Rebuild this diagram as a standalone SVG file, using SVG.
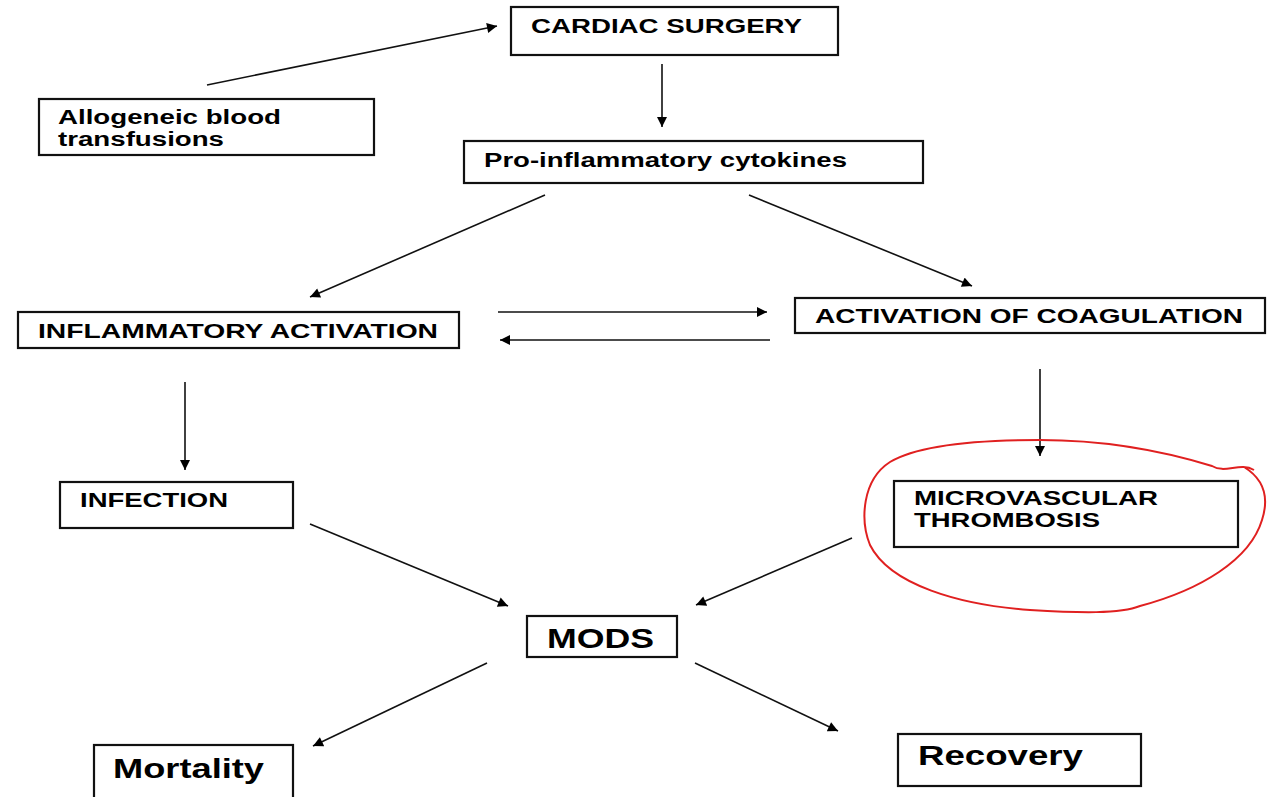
<svg xmlns="http://www.w3.org/2000/svg" width="1271" height="797" viewBox="0 0 1271 797">
<defs>
<marker id="ah" viewBox="0 0 10 10" refX="10" refY="5" markerWidth="11" markerHeight="10" markerUnits="userSpaceOnUse" orient="auto">
<path d="M0,0 L10,5 L0,10 z" fill="#000"/>
</marker>
<style>
.box{fill:#fff;stroke:#111;stroke-width:2.2}
.t{font-family:"Liberation Sans",Arial,sans-serif;font-weight:bold;font-size:20px;fill:#000}
.b{font-size:27px}
.c{stroke:#111;stroke-width:1.6;fill:none;marker-end:url(#ah)}
</style>
</defs>
<rect width="1271" height="797" fill="#fff"/>
<g id="connectors">
<line class="c" x1="207" y1="85" x2="497" y2="26"/>
<line class="c" x1="662" y1="64" x2="662" y2="127"/>
<line class="c" x1="545" y1="195" x2="310" y2="297"/>
<line class="c" x1="749" y1="195" x2="972" y2="286"/>
<line class="c" x1="498" y1="312" x2="767" y2="312"/>
<line class="c" x1="770" y1="340" x2="500" y2="340"/>
<line class="c" x1="185" y1="382" x2="185" y2="470"/>
<line class="c" x1="1040" y1="369" x2="1040" y2="456"/>
<line class="c" x1="310" y1="524" x2="508" y2="606"/>
<line class="c" x1="852" y1="538" x2="696" y2="605"/>
<line class="c" x1="487" y1="663" x2="313" y2="746"/>
<line class="c" x1="695" y1="663" x2="838" y2="731"/>
</g>
<g id="allogeneic">
<rect class="box" x="39" y="99" width="335" height="56"/>
<text class="t" x="58" y="124" textLength="223" lengthAdjust="spacingAndGlyphs">Allogeneic blood</text>
<text class="t" x="58" y="146" textLength="166" lengthAdjust="spacingAndGlyphs">transfusions</text>
</g>
<g id="cardiac">
<rect class="box" x="511" y="7" width="327" height="48"/>
<text class="t" x="531" y="33" textLength="271" lengthAdjust="spacingAndGlyphs">CARDIAC SURGERY</text>
</g>
<g id="cytokines">
<rect class="box" x="464" y="141" width="459" height="42"/>
<text class="t" x="484" y="167" textLength="363" lengthAdjust="spacingAndGlyphs">Pro-inflammatory cytokines</text>
</g>
<g id="inflammatory">
<rect class="box" x="18" y="312" width="441" height="36"/>
<text class="t" x="38" y="338" textLength="400" lengthAdjust="spacingAndGlyphs">INFLAMMATORY ACTIVATION</text>
</g>
<g id="coagulation">
<rect class="box" x="795" y="298" width="470" height="35"/>
<text class="t" x="815" y="323" textLength="428" lengthAdjust="spacingAndGlyphs">ACTIVATION OF COAGULATION</text>
</g>
<g id="infection">
<rect class="box" x="60" y="482" width="233" height="46"/>
<text class="t" x="80" y="507" textLength="148" lengthAdjust="spacingAndGlyphs">INFECTION</text>
</g>
<g id="thrombosis">
<rect class="box" x="894" y="481" width="344" height="66"/>
<text class="t" x="914" y="505" textLength="244" lengthAdjust="spacingAndGlyphs">MICROVASCULAR</text>
<text class="t" x="914" y="527" textLength="186" lengthAdjust="spacingAndGlyphs">THROMBOSIS</text>
<path d="M1254,470 C1240,462 1225,474 1212,466 C1160,450 1100,440 1040,440 C980,440 920,444 890,462 C862,480 860,520 870,545 C890,585 960,605 1030,610 C1080,613 1120,614 1140,606 C1200,590 1250,560 1262,520 C1270,495 1262,478 1244,467" fill="none" stroke="#e02020" stroke-width="2"/>
</g>
<g id="mods">
<rect class="box" x="527" y="616" width="150" height="41"/>
<text class="t b" x="547" y="648" textLength="107" lengthAdjust="spacingAndGlyphs">MODS</text>
</g>
<g id="mortality">
<rect class="box" x="94" y="745" width="199" height="60"/>
<text class="t b" x="113" y="778" textLength="151" lengthAdjust="spacingAndGlyphs">Mortality</text>
</g>
<g id="recovery">
<rect class="box" x="898" y="734" width="243" height="52"/>
<text class="t b" x="918" y="765" textLength="165" lengthAdjust="spacingAndGlyphs">Recovery</text>
</g>
</svg>
